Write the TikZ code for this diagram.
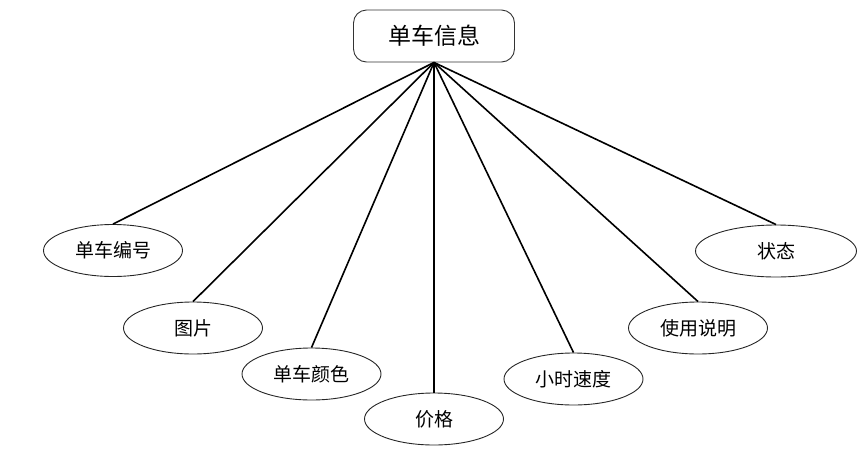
\documentclass[tikz,border=0pt]{standalone}
\usepackage{fontspec}
\setmainfont{Noto Sans CJK SC}
\usetikzlibrary{shapes.geometric}
\begin{document}
\begin{tikzpicture}[x=1pt,y=-1pt,
  rootbox/.style={draw=black!80,line width=0.9pt,rounded corners=13pt,minimum width=161pt,minimum height=52pt,inner sep=0pt,font=\fontsize{23}{26}\selectfont},
  leaf/.style={draw=black!85,line width=0.9pt,ellipse,minimum width=139pt,minimum height=52pt,inner sep=0pt,font=\fontsize{19}{22}\selectfont},
  link/.style={line width=1.6pt,black}]
\useasboundingbox (0,0) rectangle (864,448);
\node[rootbox] (root) at (434,36) {单车信息};
\node[leaf] (bh) at (113,250.5) {单车编号};
\node[leaf] (tp) at (193,328) {图片};
\node[leaf] (ys) at (311.5,374) {单车颜色};
\node[leaf] (jg) at (434,419) {价格};
\node[leaf] (sd) at (573.5,379) {小时速度};
\node[leaf] (sm) at (698,328) {使用说明};
\node[leaf,minimum width=161pt] (zt) at (776,251) {状态};
\foreach \n in {bh,tp,ys,jg,sd,sm,zt}
  \draw[link] (root.south) -- (\n.north);
\end{tikzpicture}
\end{document}
